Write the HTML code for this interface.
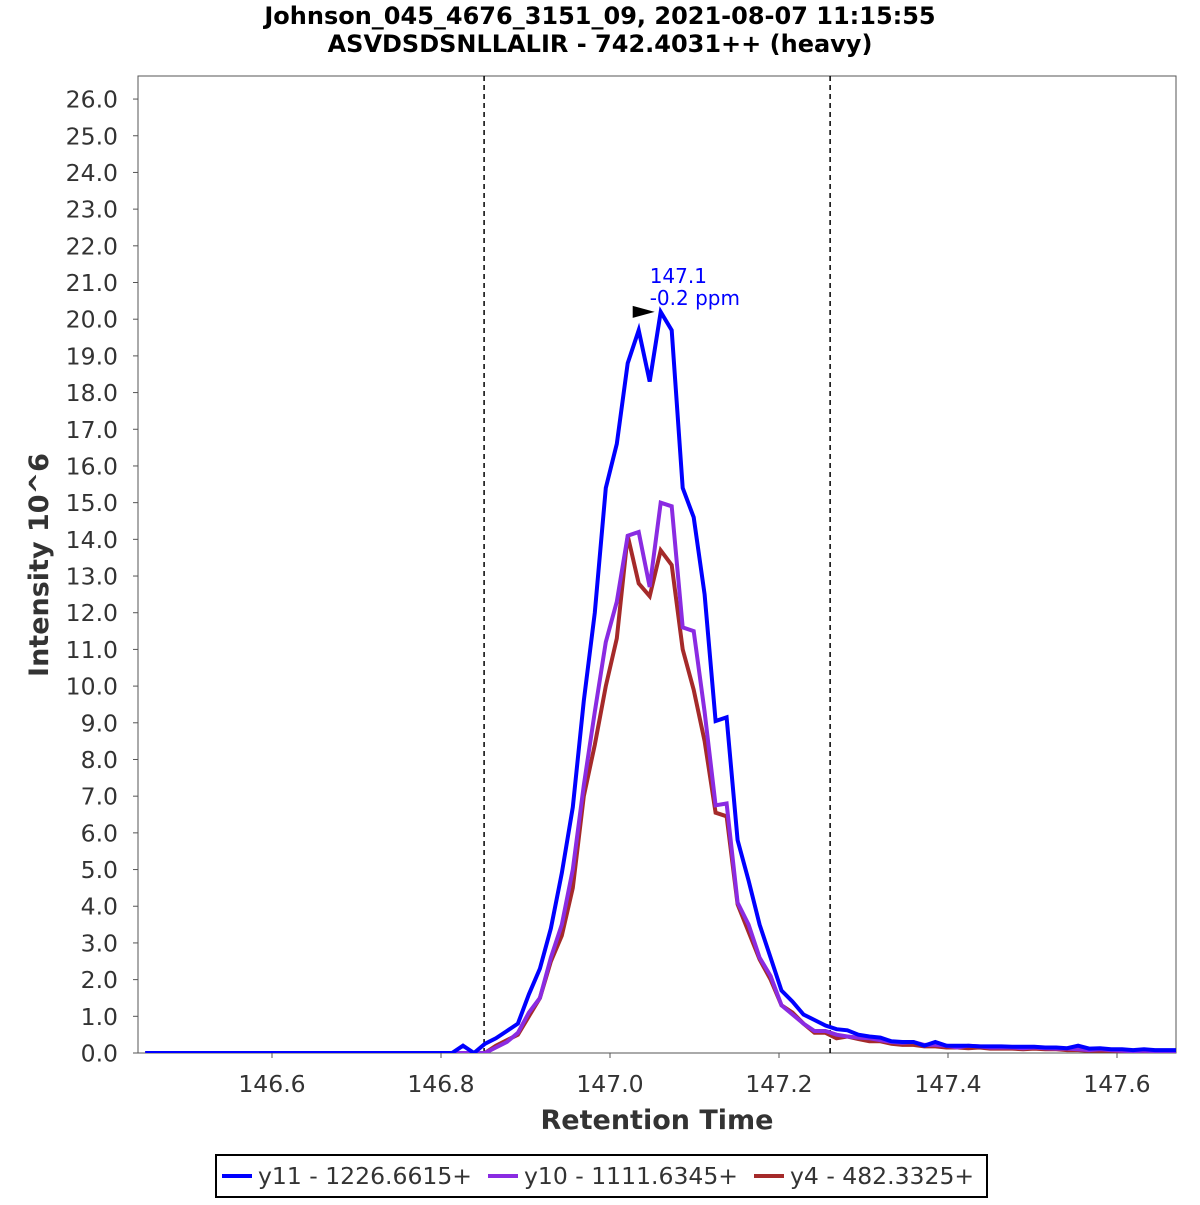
<!DOCTYPE html>
<html><head><meta charset="utf-8"><style>
body{margin:0;background:#fff;font-family:"Liberation Sans","DejaVu Sans",sans-serif}
svg text{font-family:"DejaVu Sans","Liberation Sans",sans-serif}
</style></head><body>
<svg id="chart" width="1200" height="1200" xmlns="http://www.w3.org/2000/svg">
<rect width="1200" height="1200" fill="#fff"/>
<text x="600" y="24" text-anchor="middle" font-size="24" font-weight="bold">Johnson_045_4676_3151_09, 2021-08-07 11:15:55</text>
<text x="600" y="52" text-anchor="middle" font-size="24" font-weight="bold">ASVDSDSNLLALIR - 742.4031++ (heavy)</text>
<rect x="138" y="76" width="1038" height="977" fill="none" stroke="#555" stroke-width="1"/>
<g id="yticks"></g><g id="xticks"></g>
<g id="series"></g>
<text transform="translate(48,565) rotate(-90)" text-anchor="middle" font-size="27" font-weight="bold" fill="#333">Intensity 10^6</text>
<text x="657" y="1129" text-anchor="middle" font-size="27" font-weight="bold" fill="#333">Retention Time</text>
<g>
<rect x="216" y="1155" width="771" height="42" fill="#fff" stroke="#000" stroke-width="2"/>
<g><line x1="222" y1="1176" x2="252" y2="1176" stroke="#0000ff" stroke-width="4"/><text x="258" y="1184" font-size="23.5" fill="#333">y11 - 1226.6615+</text></g>
<g><line x1="488" y1="1176" x2="518" y2="1176" stroke="#8a2be2" stroke-width="4"/><text x="524" y="1184" font-size="23.5" fill="#333">y10 - 1111.6345+</text></g>
<g><line x1="754" y1="1176" x2="784" y2="1176" stroke="#a52a2a" stroke-width="4"/><text x="790" y="1184" font-size="23.5" fill="#333">y4 - 482.3325+</text></g>
</g>
</svg>
<script>
const times=[146.813,146.826,146.839,146.852,146.865,146.878,146.891,146.904,146.917,146.930,146.943,146.956,146.969,146.982,146.995,147.008,147.021,147.034,147.047,147.060,147.073,147.086,147.099,147.112,147.125,147.138,147.151,147.164,147.177,147.190,147.203,147.216,147.229,147.242,147.255,147.268,147.281,147.294,147.307,147.320,147.333,147.346,147.359,147.372,147.385,147.398,147.411,147.424,147.437,147.450,147.463,147.476,147.489,147.502,147.515,147.528,147.541,147.554,147.567,147.580,147.593,147.606,147.619,147.632,147.645,147.658,147.671];
const y11=[0,0.2,0,0.25,0.4,0.6,0.8,1.6,2.3,3.4,4.9,6.7,9.6,12.0,15.4,16.6,18.8,19.7,18.3,20.2,19.7,15.4,14.6,12.5,9.05,9.15,5.8,4.7,3.5,2.6,1.7,1.4,1.05,0.9,0.75,0.65,0.62,0.5,0.45,0.42,0.32,0.3,0.3,0.2,0.3,0.2,0.2,0.2,0.18,0.18,0.18,0.17,0.17,0.17,0.15,0.15,0.13,0.2,0.12,0.13,0.1,0.1,0.08,0.1,0.08,0.08,0.08];
const y10=[0,0,0,0,0.15,0.3,0.55,1.1,1.5,2.6,3.5,5.0,7.3,9.3,11.2,12.3,14.1,14.2,12.7,15.0,14.9,11.6,11.5,9.3,6.75,6.8,4.1,3.5,2.6,2.1,1.3,1.05,0.8,0.6,0.6,0.5,0.45,0.42,0.4,0.35,0.3,0.28,0.3,0.22,0.22,0.2,0.15,0.2,0.18,0.15,0.15,0.15,0.13,0.15,0.13,0.12,0.12,0.1,0.08,0.1,0.08,0.06,0.05,0.06,0.05,0.05,0.05];
const y4=[0,0,0,0,0.2,0.35,0.5,1.0,1.5,2.5,3.2,4.5,7.0,8.4,10.0,11.3,14.1,12.8,12.45,13.7,13.3,11.0,9.9,8.5,6.55,6.45,4.05,3.3,2.55,2.0,1.3,1.1,0.8,0.55,0.55,0.4,0.45,0.38,0.32,0.32,0.25,0.22,0.22,0.18,0.18,0.15,0.15,0.13,0.15,0.12,0.12,0.12,0.1,0.12,0.1,0.1,0.08,0.08,0.06,0.06,0.06,0.05,0.04,0.05,0.04,0.04,0.04];
const yTicks=[0,1,2,3,4,5,6,7,8,9,10,11,12,13,14,15,16,17,18,19,20,21,22,23,24,25,26];
const xTicks=[146.6,146.8,147.0,147.2,147.4,147.6];
const boundaries=[146.851,147.2605];
const startTime=146.45;
const apex={t:147.060,v:20.2,label1:"147.1",label2:"-0.2 ppm"};

const NS="http://www.w3.org/2000/svg";
const X=t=>272+(t-146.6)*845;
const Y=v=>1053-v*36.69;
function mk(tag,attrs,parent){const e=document.createElementNS(NS,tag);for(const k in attrs)e.setAttribute(k,attrs[k]);parent.appendChild(e);return e;}
const yg=document.getElementById('yticks'),xg=document.getElementById('xticks'),sg=document.getElementById('series');
yTicks.forEach(v=>{
 const l=mk('line',{x1:133,x2:138,y1:Y(v),y2:Y(v),stroke:'#555'},yg);
 
 
 const t=mk('text',{x:118,y:Y(v)+8.5,'text-anchor':'end','font-size':23.5,fill:'#333'},yg);
 
 
 t.textContent=v.toFixed(1);
});
xTicks.forEach(v=>{
 const l=mk('line',{x1:X(v),x2:X(v),y1:1053,y2:1058,stroke:'#555'},xg);
 
 
 const t=mk('text',{x:X(v),y:1092,'text-anchor':'middle','font-size':23.5,fill:'#333'},xg);
 
 
 t.textContent=v.toFixed(1);
});
boundaries.forEach(b=>{
 const l=mk('line',{x1:X(b),x2:X(b),y1:76,y2:1053,stroke:'#000','stroke-width':1.5,'stroke-dasharray':'5,4'},sg);
 
 
});
const cp=mk('clipPath',{id:'clip'},sg);mk('rect',{x:138,y:76,width:1038,height:977},cp);
[[y4,'#a52a2a','series-y4'],[y10,'#8a2be2','series-y10'],[y11,'#0000ff','series-y11']].forEach(([vals,c,n])=>{
 let d='M'+X(startTime)+','+Y(0);
 vals.forEach((v,i)=>{d+=' L'+X(times[i]).toFixed(1)+','+Y(v).toFixed(1);});
 const p=mk('path',{d:d,fill:'none',stroke:c,'stroke-width':4,'stroke-linejoin':'miter','clip-path':'url(#clip)'},sg);
 
 
});
const ax=X(apex.t),ay=Y(apex.v);
const ar=mk('polygon',{points:`${ax-6},${ay} ${ax-28},${ay-6} ${ax-28},${ay+6}`,fill:'#000'},sg);


const a1=mk('text',{x:ax-11,y:ay-29,'font-size':20,fill:'#0000ff'},sg);


a1.textContent=apex.label1;
const a2=mk('text',{x:ax-11,y:ay-7,'font-size':20,fill:'#0000ff'},sg);


a2.textContent=apex.label2;
</script>
</body></html>
